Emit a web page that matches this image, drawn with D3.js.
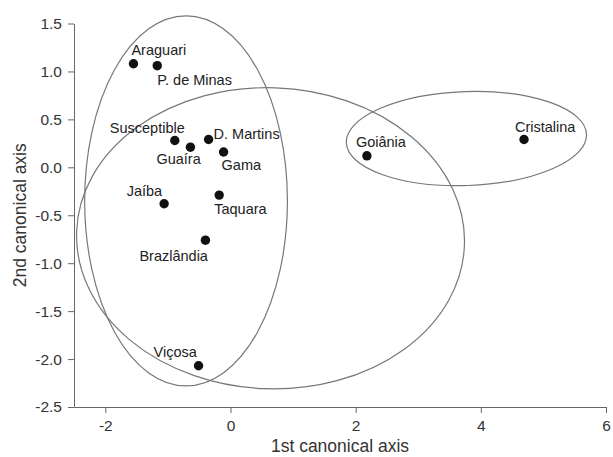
<!DOCTYPE html>
<html>
<head>
<meta charset="utf-8">
<script src="https://cdn.jsdelivr.net/npm/d3@7"></script>
<style>
  body { margin: 0; background: #fff; }
  text { font-family: "Liberation Sans", Arial, sans-serif; }
  .axis path, .axis line { stroke: #666; }
  .axis text { fill: #333; font-size: 15.5px; }
</style>
</head>
<body>
<div id="cva-plot"></div>
<script>
// populations on the first two canonical axes
const names = ["Araguari", "P. de Minas", "Susceptible", "Guaíra", "D. Martins", "Gama",
               "Jaíba", "Taquara", "Brazlândia", "Viçosa", "Goiânia", "Cristalina"];
const can1 = [-1.55, -1.17, -0.89, -0.64, -0.35, -0.11, -1.06, -0.18, -0.40, -0.51, 2.18, 4.69];
const can2 = [1.08, 1.06, 0.28, 0.21, 0.29, 0.16, -0.38, -0.29, -0.76, -2.07, 0.12, 0.29];

// group ellipses (centre, semi-axes in axis units, tilt in degrees)
const ellCx = [-0.71, 0.64, 3.77];
const ellCy = [-0.35, -0.74, 0.30];
const ellRx = [1.62, 3.10, 1.92];
const ellRy = [1.93, 1.57, 0.49];
const ellTilt = [0, 2, -2];

const xTicks = [-2, 0, 2, 4, 6];
const yTicks = [1.5, 1.0, 0.5, 0.0, -0.5, -1.0, -1.5, -2.0, -2.5];

const width = 613, height = 457;

// where each label sits relative to its dot [dx, dy, anchor]
const labelPos = {
    "Araguari": [-2, -9, "start"],
    "P. de Minas": [0, 19, "start"],
    "Susceptible": [10, -7, "end"],
    "Guaíra": [-34, 17, "start"],
    "D. Martins": [5, -1, "start"],
    "Gama": [-2, 18, "start"],
    "Jaíba": [-2, -8, "end"],
    "Taquara": [-5, 19, "start"],
    "Brazlândia": [-66, 21, "start"],
    "Viçosa": [-45, -9, "start"],
    "Goiânia": [-11, -9, "start"],
    "Cristalina": [-9, -8, "start"]
};

let svg = d3.select("#cva-plot")
    .append("svg")
        .attr("width", width)
        .attr("height", height);

let xScale = d3.scaleLinear()
                .domain([-2.5, 6])
                .range([74, 606]);

let yScale = d3.scaleLinear()
                .domain([-2.5, 1.5])
                .range([407, 23.5]);

svg.append("g")
        .attr("class", "axis")
        .attr("transform", `translate(0, ${yScale(-2.5)})`)
        .call(d3.axisBottom(xScale).tickValues(xTicks).tickFormat(d => String(d))
              .tickSize(6).tickSizeOuter(0).tickPadding(7));

svg.append("g")
        .attr("class", "axis")
        .attr("transform", `translate(${xScale(-2.5)}, 0)`)
        .call(d3.axisLeft(yScale).tickValues(yTicks).tickFormat(d => d.toFixed(1))
              .tickSize(6).tickSizeOuter(0).tickPadding(6));

svg.selectAll(".axis text").attr("font-family", null);
svg.selectAll(".axis").attr("font-size", null);

// axis titles
svg.append("text")
    .attr("x", (xScale(-2.5) + xScale(6)) / 2)
    .attr("y", 452)
    .attr("text-anchor", "middle")
    .attr("font-size", "17.5px")
    .attr("fill", "#333")
    .text("1st canonical axis");

svg.append("text")
    .attr("transform", `translate(26, ${(yScale(-2.5) + yScale(1.5)) / 2}) rotate(-90)`)
    .attr("text-anchor", "middle")
    .attr("font-size", "17.5px")
    .attr("fill", "#333")
    .text("2nd canonical axis");

// ellipses
svg.selectAll("ellipse")
    .data(d3.range(ellCx.length))
    .enter()
    .append("ellipse")
        .attr("cx", i => xScale(ellCx[i]))
        .attr("cy", i => yScale(ellCy[i]))
        .attr("rx", i => xScale(ellCx[i] + ellRx[i]) - xScale(ellCx[i]))
        .attr("ry", i => yScale(ellCy[i]) - yScale(ellCy[i] + ellRy[i]))
        .attr("transform", i => `rotate(${ellTilt[i]}, ${xScale(ellCx[i])}, ${yScale(ellCy[i])})`)
        .attr("fill", "none")
        .attr("stroke", "#777")
        .attr("stroke-width", 1.2);

// points and labels
let pts = names.map((n, i) => ({ name: n, c1: can1[i], c2: can2[i] }));

svg.selectAll("circle")
    .data(pts)
    .enter()
    .append("circle")
        .attr("cx", d => xScale(d.c1))
        .attr("cy", d => yScale(d.c2))
        .attr("r", 4.7)
        .attr("fill", "#111");

svg.selectAll(".lbl")
    .data(pts)
    .enter()
    .append("text")
        .attr("class", "lbl")
        .attr("x", d => xScale(d.c1) + labelPos[d.name][0])
        .attr("y", d => yScale(d.c2) + labelPos[d.name][1])
        .attr("text-anchor", d => labelPos[d.name][2])
        .attr("font-size", "14.5px")
        .attr("fill", "#222")
        .text(d => d.name);
</script>
</body>
</html>
